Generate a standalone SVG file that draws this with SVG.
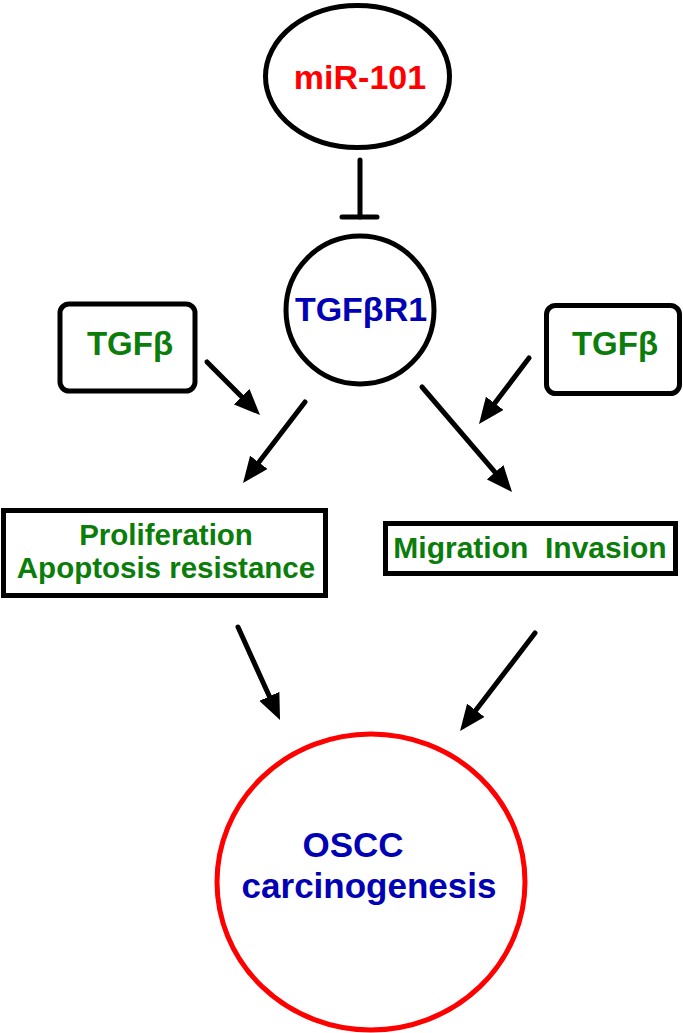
<svg xmlns="http://www.w3.org/2000/svg" width="683" height="1033" viewBox="0 0 683 1033">
<style>
text{font-family:"Liberation Sans",Arial,sans-serif;font-weight:bold;text-anchor:middle}
.red{fill:#FF0000}.blue{fill:#0000B4}.green{fill:#0A7D0A}
.shape{fill:#fff;stroke:#000;stroke-width:5}
.conn{stroke:#000;stroke-width:5;fill:none;stroke-linecap:round}
</style>
<defs>
<marker id="ah" viewBox="0 0 26 22" refX="6" refY="11" markerWidth="26" markerHeight="22" markerUnits="userSpaceOnUse" orient="auto">
<path d="M0,0 L26,11 L0,22 z" fill="#000"/>
</marker>
</defs>
<rect width="683" height="1033" fill="#fff"/>
<g id="mir101">
<ellipse class="shape" cx="357.5" cy="76.5" rx="92" ry="71"/>
<text class="red" x="360" y="89" font-size="34">miR-101</text>
</g>
<g id="tgfbr1">
<circle class="shape" cx="360" cy="310" r="74"/>
<text class="blue" x="361" y="321" font-size="34">TGFβR1</text>
</g>
<g id="tgfb-left">
<rect class="shape" x="60" y="304" width="135" height="87" rx="9"/>
<text class="green" x="130" y="355" font-size="33">TGFβ</text>
</g>
<g id="tgfb-right">
<rect class="shape" x="546.5" y="305.5" width="133" height="88" rx="9"/>
<text class="green" x="615" y="355" font-size="33">TGFβ</text>
</g>
<g id="prolif">
<rect class="shape" x="3.5" y="510.5" width="322" height="85"/>
<text class="green" x="166" y="545" font-size="29.5">Proliferation</text>
<text class="green" x="166" y="578" font-size="29.5">Apoptosis resistance</text>
</g>
<g id="migration">
<rect class="shape" x="385.5" y="523.5" width="290" height="50"/>
<text class="green" x="530" y="558" font-size="30" style="white-space:pre" xml:space="preserve">Migration  Invasion</text>
</g>
<g id="oscc">
<ellipse cx="371" cy="882" rx="154" ry="148" fill="#fff" stroke="#FF0000" stroke-width="5"/>
<text class="blue" x="353" y="857" font-size="35">OSCC</text>
<text class="blue" x="369" y="898" font-size="35">carcinogenesis</text>
</g>
<g id="connectors">
<line class="conn" x1="360" y1="160" x2="360" y2="217"/>
<line class="conn" x1="342" y1="217" x2="377" y2="217" stroke-width="6"/>
<line class="conn" x1="207" y1="362" x2="245.9" y2="400.9" marker-end="url(#ah)"/>
<line class="conn" x1="305" y1="402" x2="255.2" y2="467.1" marker-end="url(#ah)"/>
<line class="conn" x1="422" y1="387" x2="499" y2="476.8" marker-end="url(#ah)"/>
<line class="conn" x1="529" y1="358" x2="491.1" y2="408.1" marker-end="url(#ah)"/>
<line class="conn" x1="238" y1="627" x2="271.8" y2="701.8" marker-end="url(#ah)"/>
<line class="conn" x1="535" y1="633" x2="472.2" y2="715.1" marker-end="url(#ah)"/>
</g>
</svg>
